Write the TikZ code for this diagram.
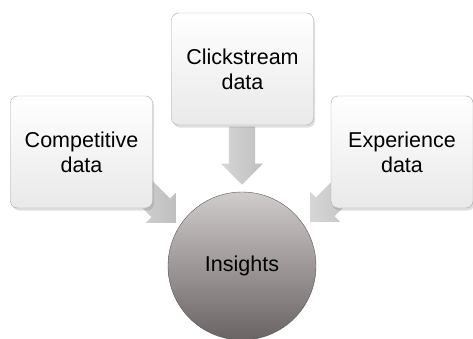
\documentclass[tikz,border=0pt]{standalone}
\usepackage{fontspec}
\setmainfont{Liberation Sans}
\usetikzlibrary{shapes.arrows,shadows}
\definecolor{boxline}{HTML}{A9A9A9}
\definecolor{boxbot}{HTML}{E9E9E9}
\definecolor{arrowlight}{HTML}{D6D6D6}
\definecolor{arrowdark}{HTML}{BFBFBF}
\definecolor{insighttop}{HTML}{D0CCCB}
\definecolor{insightbot}{HTML}{6A6363}

\begin{document}
\begin{tikzpicture}[
  x=1pt, y=1pt,
  font=\fontsize{21.5}{25}\selectfont,
  source/.style={draw=boxline, rounded corners=7pt, align=center, minimum width=142pt, minimum height=112pt, top color=white, bottom color=boxbot, drop shadow={shadow xshift=1.5pt, shadow yshift=-2.5pt, opacity=0.25}},
  result/.style={draw=black!65, circle, minimum size=148pt, top color=insighttop, bottom color=insightbot},
  feed/.style={single arrow, minimum height=58pt, minimum width=0pt, inner xsep=0pt, inner ysep=13pt, single arrow head extend=8pt, left color=arrowlight, right color=arrowdark, anchor=tip}
]
\useasboundingbox (0,0) rectangle (473,338);

% central circle
\node[result] (ins) at (242,72) {Insights};

% arrows into the circle
\node[feed, rotate=-90] (arrC) at (242,153) {};
\node[feed, rotate=-45] (arrL) at (176,115) {};
\node[feed, rotate=-135] (arrR) at (310,116) {};

% data sources
\node[source] (comp) at (81.5,186) {Competitive\\data};
\node[source] (click) at (242.5,269) {Clickstream\\data};
\node[source] (exp) at (402,186) {Experience\\data};
\end{tikzpicture}
\end{document}
